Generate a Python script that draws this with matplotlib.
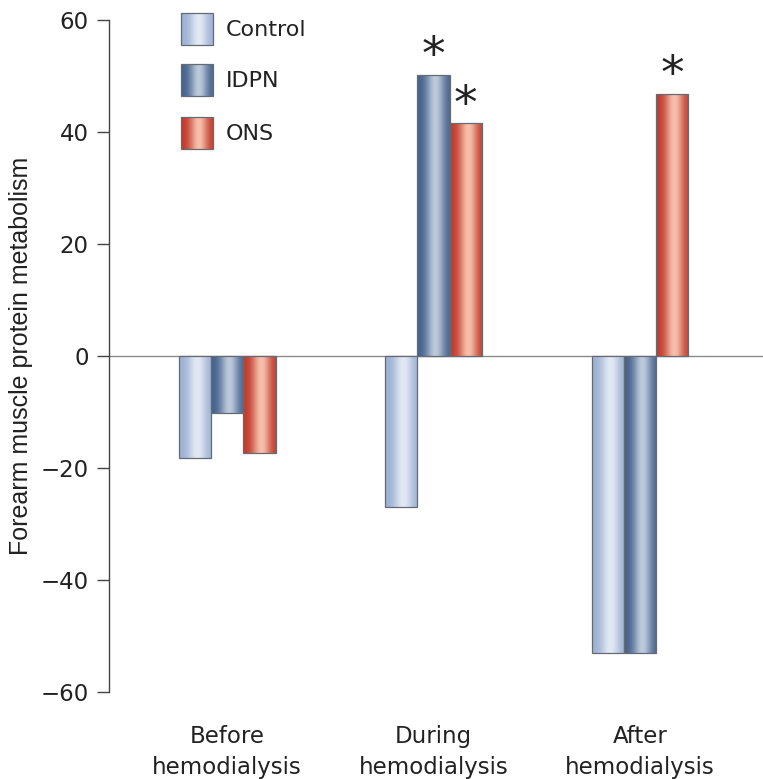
import numpy as np
import matplotlib
matplotlib.use('Agg')
import matplotlib.pyplot as plt
from matplotlib.patches import Rectangle
from matplotlib.colors import to_rgb

groups = ['Before\nhemodialysis', 'During\nhemodialysis', 'After\nhemodialysis']
series = ['Control', 'IDPN', 'ONS']
control = [-18.2, -27.0, -53.0]
idpn = [-10.2, 50.2, -53.0]
ons = [-17.3, 41.6, 46.8]
# which bars carry an asterisk
stars = {'IDPN': [False, True, False], 'ONS': [False, True, True]}

# (edge colour, centre highlight)
shades = {'Control': ('#9cb0d3', '#e3e9f4'),
          'IDPN': ('#44608a', '#bccadb'),
          'ONS': ('#c0382a', '#f6c0ab')}

plt.rcParams['font.family'] = ['DejaVu Sans']
txt = '#222222'

fig = plt.figure(figsize=(7.63, 7.79), dpi=100)
ax = fig.add_axes([0.1429, 0.1117, 0.8571, 0.8626])
# overlay in pixel units for the hand-made legend
lax = fig.add_axes([0, 0, 1, 1], zorder=5)
lax.set_xlim(0, 763)
lax.set_ylim(779, 0)
lax.axis('off')


def grad_img(name):
    edge, mid = np.array(to_rgb(shades[name][0])), np.array(to_rgb(shades[name][1]))
    t = np.linspace(0, 1, 64)
    w = np.exp(-((t - 0.56) / 0.28) ** 2)
    row = edge[None, :] * (1 - w[:, None]) + mid[None, :] * w[:, None]
    return row[None, :, :]


def grad_bar(a, x0, y0, w, h, name):
    rect = Rectangle((x0, y0), w, h, facecolor='none', edgecolor='#666a73',
                     linewidth=0.9, zorder=3)
    a.add_patch(rect)
    im = a.imshow(grad_img(name), extent=(x0, x0 + w, min(y0, y0 + h), max(y0, y0 + h)),
                  aspect='auto', zorder=2, interpolation='bilinear', origin='lower')
    im.set_clip_path(rect)


bw = 0.156
x = np.arange(len(groups))
data = {'Control': control, 'IDPN': idpn, 'ONS': ons}
for i, name in enumerate(series):
    for j, v in enumerate(data[name]):
        xl = x[j] + (i - 1) * bw - bw / 2
        grad_bar(ax, xl, 0, bw, v, name)
        if name in stars and stars[name][j]:
            ax.text(x[j] + (i - 1) * bw, v - 0.8, '*', ha='center', va='bottom',
                    fontsize=34, color=txt)

ax.set_xlim(-0.573, 2.597)
ax.set_ylim(-60, 60)
ax.axhline(0, color='#8a8a8a', linewidth=1.0, zorder=1)

# legend drawn by hand (pixel coordinates)
for name, yc in zip(series, [29, 80, 133]):
    grad_bar(lax, 181, yc - 16, 32, 32, name)
    lax.text(226, yc + 1, name, va='center', ha='left', fontsize=16, color=txt)
lax.set_xlim(0, 763)
lax.set_ylim(779, 0)

for s in ['top', 'right', 'bottom']:
    ax.spines[s].set_visible(False)
ax.spines['left'].set_color('#444444')
ax.spines['left'].set_linewidth(1.0)
ax.set_yticks([-60, -40, -20, 0, 20, 40, 60])
ax.set_yticklabels(['\u221260', '\u221240', '\u221220', '0', '20', '40', '60'])
ax.tick_params(axis='y', length=8.6, width=1.0, color='#444444', pad=6,
               labelsize=16.5, labelcolor=txt)
ax.set_xticks(x)
ax.set_xticklabels(groups, fontsize=16.5, color=txt, linespacing=1.45)
ax.tick_params(axis='x', length=0, pad=24)
ax.set_ylabel('Forearm muscle protein metabolism', fontsize=18, color=txt,
              family=['Liberation Sans Narrow', 'Liberation Sans', 'DejaVu Sans'])
ax.yaxis.set_label_coords(-0.117, 0.5)

fig.savefig('out.png', dpi=100)
